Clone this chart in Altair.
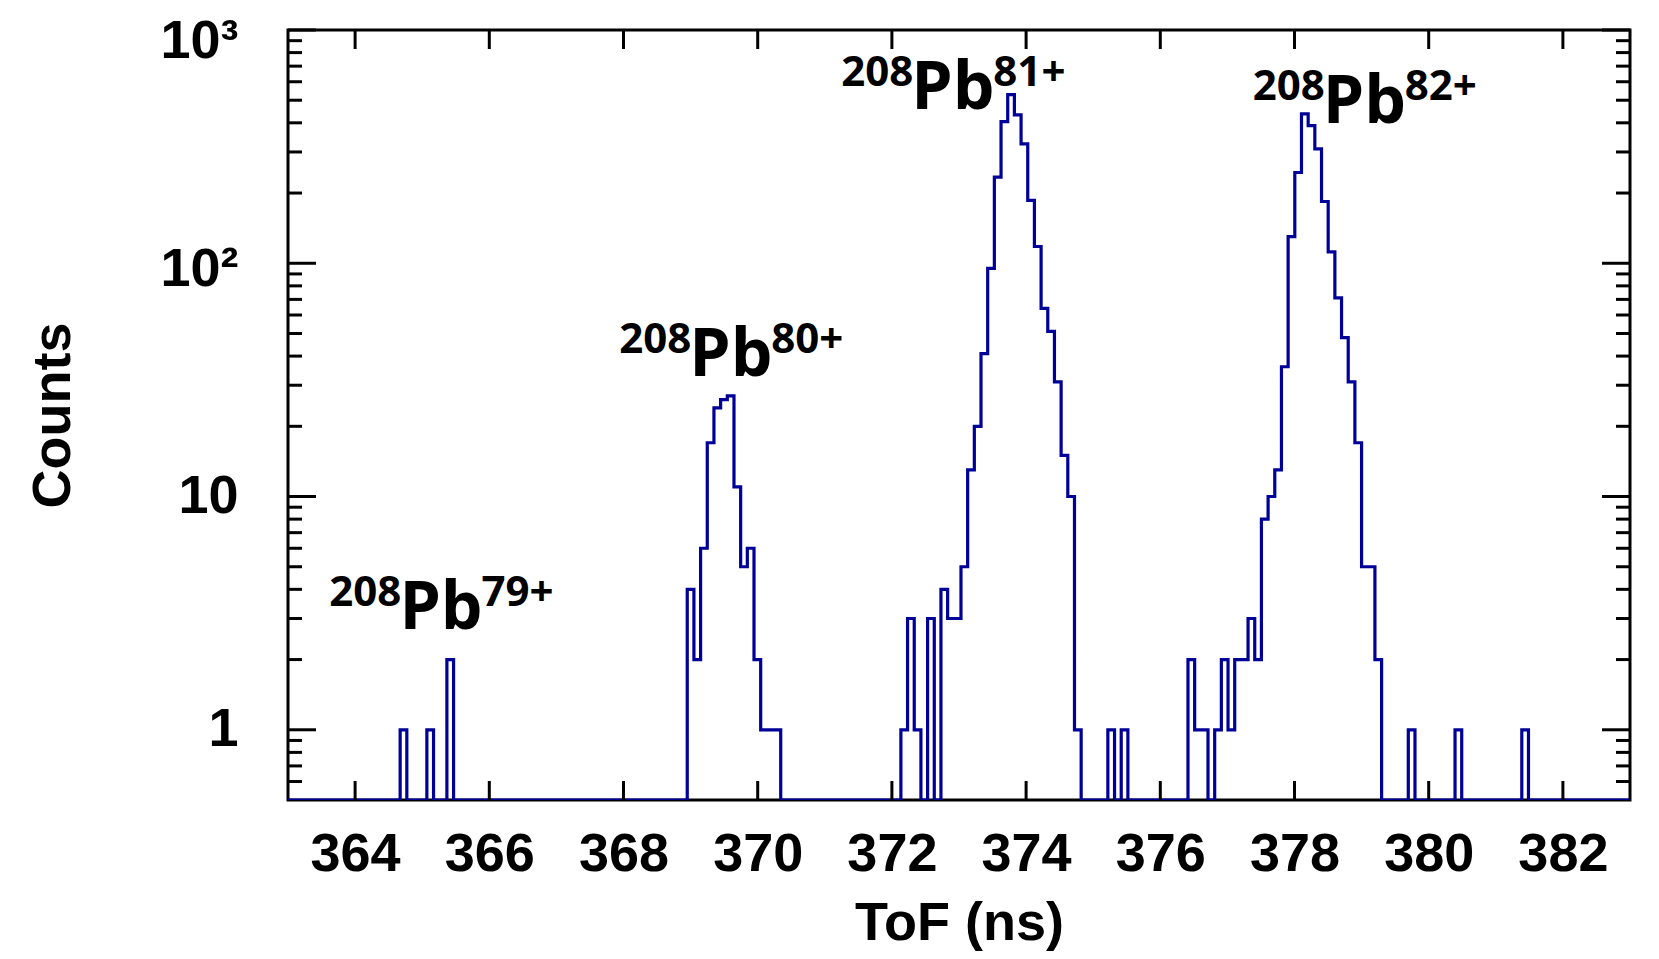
import altair as alt
import pandas as pd

# ---------------- histogram binning (ToF in ns) ----------------
BIN_START = 362.98
BIN_WIDTH = 0.0995
N_BINS = 202

# counts, per contiguous group of bins
pb79_start = 17
pb79_counts = [1, 0, 0, 0, 1, 0, 0, 2]
pb80_start = 60
pb80_counts = [4, 2, 6, 17, 24, 26, 27, 11, 5, 6, 2, 1, 1, 1]
pb81_start = 92
pb81_counts = [1, 3, 1, 0, 3, 0, 4, 3, 3, 5, 13, 20, 41, 95, 234, 405, 528,
               433, 325, 186, 118, 64, 51, 31, 15, 10, 1]
mid_start = 123
mid_counts = [1, 0, 1]
pb82_start = 135
pb82_counts = [2, 1, 1, 0, 1, 2, 1, 2, 2, 3, 2, 8, 10, 13, 36, 130, 245, 437,
               389, 309, 184, 112, 71, 48, 31, 17, 5, 5, 2]
tail_bins = [168, 175, 185]
tail_counts = [1, 1, 1]

# ---------------- axes ----------------
X_MIN, X_MAX = 363, 383
Y_MIN, Y_MAX = 0.5, 1000
x_ticks = [364, 366, 368, 370, 372, 374, 376, 378, 380, 382]
y_major = [1, 10, 100, 1000]
y_minor = [0.6, 0.7, 0.8, 0.9,
           2, 3, 4, 5, 6, 7, 8, 9,
           20, 30, 40, 50, 60, 70, 80, 90,
           200, 300, 400, 500, 600, 700, 800, 900]
X_TITLE = "ToF (ns)"
Y_TITLE = "Counts"

# ---------------- peak labels ----------------
label_x = [364.66, 368.98, 372.29, 378.42]
label_y = [2.70, 32.7, 460, 400]
label_mass = ["208", "208", "208", "208"]
label_elem = ["Pb", "Pb", "Pb", "Pb"]
label_charge = ["79+", "80+", "81+", "82+"]

# ---------------- build tables ----------------
counts = [0] * N_BINS
for start, vals in [(pb79_start, pb79_counts), (pb80_start, pb80_counts),
                    (pb81_start, pb81_counts), (mid_start, mid_counts),
                    (pb82_start, pb82_counts)]:
    for k, v in enumerate(vals):
        counts[start + k] = v
for b, v in zip(tail_bins, tail_counts):
    counts[b] = v

edges = [BIN_START + i * BIN_WIDTH for i in range(N_BINS + 1)]
hist_df = pd.DataFrame({
    "t": edges,
    "c": [max(c, Y_MIN) for c in counts] + [max(counts[-1], Y_MIN)],
})
xt_df = pd.DataFrame({"t": x_ticks})
ymaj_df = pd.DataFrame({"c": y_major})
ymin_df = pd.DataFrame({"c": y_minor})
lab_df = pd.DataFrame({"t": label_x, "c": label_y, "mass": label_mass,
                       "elem": label_elem, "charge": label_charge})

W, H = 1342, 770
BLUE = "#000099"
AXFONT = "Liberation Sans"
LABFONT = "Open Sans"

xs = alt.Scale(domain=[X_MIN, X_MAX], nice=False, zero=False)
ys = alt.Scale(type="log", domain=[Y_MIN, Y_MAX], nice=False)

x_axis = alt.Axis(values=x_ticks, format="d", labelFont=AXFONT, labelFontWeight="bold",
                  labelFontSize=54, labelColor="black", labelPadding=27, labelFlush=False,
                  labelOverlap=False, ticks=False, tickSize=0, domain=False, grid=False,
                  titleFont=AXFONT, titleFontWeight="bold", titleFontSize=54,
                  titleColor="black", titleY=139, titleBaseline="alphabetic")
y_axis = alt.Axis(values=y_major,
                  labelExpr="datum.value >= 999 ? '10³' : datum.value >= 99 ? '10²' : datum.value >= 9 ? '10' : '1'",
                  labelOffset={"condition": [{"test": "datum.value >= 999", "value": 11},
                                             {"test": "datum.value >= 99", "value": 6}],
                               "value": 0},
                  labelFont=AXFONT, labelFontWeight="bold", labelFontSize=54,
                  labelColor="black", labelPadding=50, labelFlush=False, labelOverlap=False,
                  ticks=False, tickSize=0, domain=False, grid=False,
                  titleFont=AXFONT, titleFontWeight="bold", titleFontSize=54,
                  titleColor="black", titleX=-219, titleY=385, titleBaseline="alphabetic")

X = lambda: alt.X("t:Q", scale=xs, axis=x_axis, title=X_TITLE)
Y = lambda: alt.Y("c:Q", scale=ys, axis=y_axis, title=Y_TITLE)

hist = alt.Chart(hist_df).mark_line(interpolate="step-after", color=BLUE,
                                    strokeWidth=3.2, clip=True).encode(x=X(), y=Y())

def xtick(y0, y1):
    return alt.Chart(xt_df).mark_rule(color="black", strokeWidth=3).encode(
        x=X(), y=alt.value(y0), y2=alt.value(y1))

def ytick(df, x0, x1):
    return alt.Chart(df).mark_rule(color="black", strokeWidth=3).encode(
        y=Y(), x=alt.value(x0), x2=alt.value(x1))

ticks = [
    xtick(H, H - 19), xtick(0, 19),
    ytick(ymaj_df, 0, 28), ytick(ymin_df, 0, 14),
    ytick(ymaj_df, W, W - 28), ytick(ymin_df, W, W - 14),
]

base_lab = alt.Chart(lab_df).encode(x=X(), y=Y())
lab_mass = base_lab.mark_text(font=LABFONT, fontWeight="bold", fontSize=42, align="right",
                              baseline="alphabetic", dx=2, dy=-23, color="black").encode(text="mass:N")
lab_elem = base_lab.mark_text(font=LABFONT, fontWeight="bold", fontSize=66, align="left",
                              baseline="alphabetic", color="black").encode(text="elem:N")
lab_charge = base_lab.mark_text(font=LABFONT, fontWeight="bold", fontSize=42, align="left",
                                baseline="alphabetic", dx=82, dy=-23, color="black").encode(text="charge:N")

chart = alt.layer(hist, *ticks, lab_mass, lab_elem, lab_charge).properties(
    width=W, height=H,
    padding={"left": 280, "top": 22, "right": 20, "bottom": 152},
    autosize=alt.AutoSizeParams(type="none"),
    background="white",
).configure_view(stroke="black", strokeWidth=3)

chart.save("out.html", embed_options={"renderer": "svg", "actions": False})
